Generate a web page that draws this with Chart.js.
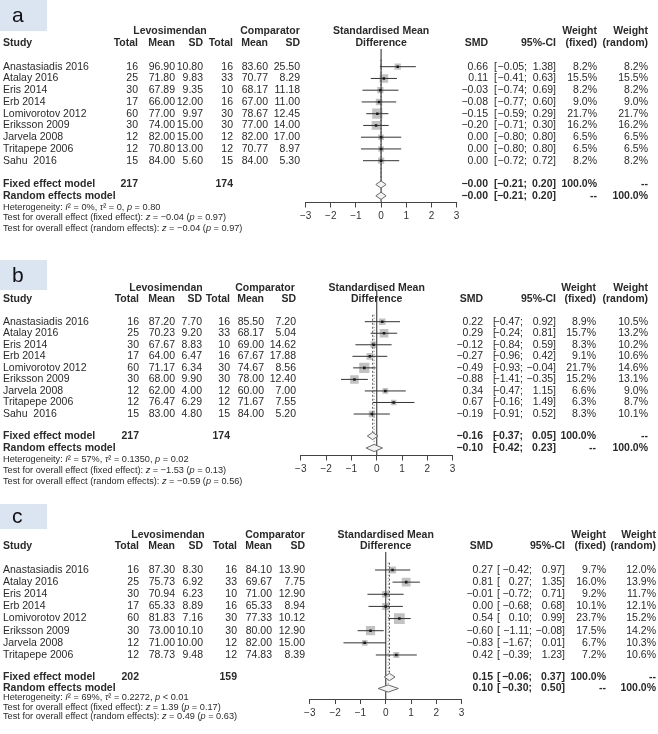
<!DOCTYPE html>
<html>
<head>
<meta charset="utf-8">
<script src="https://cdn.jsdelivr.net/npm/chart.js@4.4.1/dist/chart.umd.min.js"></script>
<style>
  html, body { margin: 0; padding: 0; background: #fff; }
  #wrap { position: relative; width: 658px; height: 734px; overflow: hidden; }
  canvas { position: absolute; left: 0; }
</style>
</head>
<body>
<div id="wrap">
  <canvas id="plotA" style="top:0px"></canvas>
  <canvas id="plotB" style="top:240px"></canvas>
  <canvas id="plotC" style="top:488px"></canvas>
</div>
<script>
// ---- data ----
const studiesAB = ['Anastasiadis 2016', 'Atalay 2016', 'Eris 2014', 'Erb 2014', 'Lomivorotov 2012',
                   'Eriksson 2009', 'Jarvela 2008', 'Tritapepe 2006', 'Sahu  2016'];
const studiesC = ['Anastasiadis 2016', 'Atalay 2016', 'Eris 2014', 'Erb 2014', 'Lomivorotov 2012',
                  'Eriksson 2009', 'Jarvela 2008', 'Tritapepe 2006'];
const xTicks = [-3, -2, -1, 0, 1, 2, 3];

// panel a
const aLevoN = [16, 25, 30, 17, 60, 30, 12, 12, 15];
const aLevoMean = [96.90, 71.80, 67.89, 66.00, 77.00, 74.00, 82.00, 70.80, 84.00];
const aLevoSD = [10.80, 9.83, 9.35, 12.00, 9.97, 15.00, 15.00, 13.00, 5.60];
const aCompN = [16, 33, 10, 16, 30, 30, 12, 12, 15];
const aCompMean = [83.60, 70.77, 68.17, 67.00, 78.67, 77.00, 82.00, 70.77, 84.00];
const aCompSD = [25.50, 8.29, 11.18, 11.00, 12.45, 14.00, 17.00, 8.97, 5.30];
const aSMD = [0.66, 0.11, -0.03, -0.08, -0.15, -0.20, 0.00, 0.00, 0.00];
const aLow = [-0.05, -0.41, -0.74, -0.77, -0.59, -0.71, -0.80, -0.80, -0.72];
const aHigh = [1.38, 0.63, 0.69, 0.60, 0.29, 0.30, 0.80, 0.80, 0.72];
const aWFixed = [8.2, 15.5, 8.2, 9.0, 21.7, 16.2, 6.5, 6.5, 8.2];
const aWRandom = [8.2, 15.5, 8.2, 9.0, 21.7, 16.2, 6.5, 6.5, 8.2];
const aFixed = [-0.002, -0.21, 0.20];
const aRandom = [-0.002, -0.21, 0.20];
const aTotals = [217, 174];
const aHet = ['0%', '0', '= 0.80'];
const aZ = [-0.04, -0.04];
const aP = ['= 0.97', '= 0.97'];

// panel b
const bLevoN = [16, 25, 30, 17, 60, 30, 12, 12, 15];
const bLevoMean = [87.20, 70.23, 67.67, 64.00, 71.17, 68.00, 62.00, 76.47, 83.00];
const bLevoSD = [7.70, 9.20, 8.83, 6.47, 6.34, 9.90, 4.00, 6.29, 4.80];
const bCompN = [16, 33, 10, 16, 30, 30, 12, 12, 15];
const bCompMean = [85.50, 68.17, 69.00, 67.67, 74.67, 78.00, 60.00, 71.67, 84.00];
const bCompSD = [7.20, 5.04, 14.62, 17.88, 8.56, 12.40, 7.00, 7.55, 5.20];
const bSMD = [0.22, 0.29, -0.12, -0.27, -0.49, -0.88, 0.34, 0.67, -0.19];
const bLow = [-0.47, -0.24, -0.84, -0.96, -0.93, -1.41, -0.47, -0.16, -0.91];
const bHigh = [0.92, 0.81, 0.59, 0.42, -0.04, -0.35, 1.15, 1.49, 0.52];
const bWFixed = [8.9, 15.7, 8.3, 9.1, 21.7, 15.2, 6.6, 6.3, 8.3];
const bWRandom = [10.5, 13.2, 10.2, 10.6, 14.6, 13.1, 9.0, 8.7, 10.1];
const bFixed = [-0.16, -0.37, 0.05];
const bRandom = [-0.10, -0.42, 0.23];
const bTotals = [217, 174];
const bHet = ['57%', '0.1350', '= 0.02'];
const bZ = [-1.53, -0.59];
const bP = ['= 0.13', '= 0.56'];

// panel c
const cLevoN = [16, 25, 30, 17, 60, 30, 12, 12];
const cLevoMean = [87.30, 75.73, 70.94, 65.33, 81.83, 73.00, 71.00, 78.73];
const cLevoSD = [8.30, 6.92, 6.23, 8.89, 7.16, 10.10, 10.00, 9.48];
const cCompN = [16, 33, 10, 16, 30, 30, 12, 12];
const cCompMean = [84.10, 69.67, 71.00, 65.33, 77.33, 80.00, 82.00, 74.83];
const cCompSD = [13.90, 7.75, 12.90, 8.94, 10.12, 12.90, 15.00, 8.39];
const cSMD = [0.27, 0.81, -0.01, 0.00, 0.54, -0.60, -0.83, 0.42];
const cLow = [-0.42, 0.27, -0.72, -0.68, 0.10, -1.11, -1.67, -0.39];
const cHigh = [0.97, 1.35, 0.71, 0.68, 0.99, -0.08, 0.01, 1.23];
const cWFixed = [9.7, 16.0, 9.2, 10.1, 23.7, 17.5, 6.7, 7.2];
const cWRandom = [12.0, 13.9, 11.7, 12.1, 15.2, 14.2, 10.3, 10.6];
const cFixed = [0.15, -0.06, 0.37];
const cRandom = [0.10, -0.30, 0.50];
const cTotals = [202, 159];
const cHet = ['69%', '0.2272', '< 0.01'];
const cZ = [1.39, 0.49];
const cP = ['= 0.17', '= 0.63'];

// ---- layout (page pixels) ----
const FONT = '"Liberation Sans", Arial, Helvetica, sans-serif';
const INK = '#2a2a2a';

const panels = [
  { id: 'plotA', label: 'a', canvasTop: 0, height: 240, box: [0, 0, 47, 31],
    x0: 305.6, x3: 456.6, lineTop: 49, axis: 202.5, row1: 66.7, step: 11.75,
    fixedPx: 184.5, randomPx: 195.8, hdr: [31, 43], foot: [207, 217.5, 228],
    col: { study: 3, lN: 138, lM: 175, lS: 203, cN: 233, cM: 268, cS: 300, lHead: 170, cHead: 270,
           smd: 488, ciL: 494, ciSemi: 527, ciR: 556, wf: 597, wr: 648 },
    studies: studiesAB, levoN: aLevoN, levoMean: aLevoMean, levoSD: aLevoSD,
    compN: aCompN, compMean: aCompMean, compSD: aCompSD, smd: aSMD, low: aLow, high: aHigh,
    wFixed: aWFixed, wRandom: aWRandom, fixed: aFixed, random: aRandom, totals: aTotals,
    het: aHet, z: aZ, p: aP },
  { id: 'plotB', label: 'b', canvasTop: 240, height: 248, box: [0, 260, 47, 30],
    x0: 300.8, x3: 452.6, lineTop: 290, axis: 455.5, row1: 321.7, step: 11.54,
    fixedPx: 436, randomPx: 448, hdr: [288.3, 299.3], foot: [459.5, 470, 481.5],
    col: { study: 3, lN: 139, lM: 175, lS: 202, cN: 230, cM: 264, cS: 296, lHead: 166, cHead: 265,
           smd: 483, ciL: 493, ciSemi: 523, ciR: 556, wf: 596, wr: 648 },
    studies: studiesAB, levoN: bLevoN, levoMean: bLevoMean, levoSD: bLevoSD,
    compN: bCompN, compMean: bCompMean, compSD: bCompSD, smd: bSMD, low: bLow, high: bHigh,
    wFixed: bWFixed, wRandom: bWRandom, fixed: bFixed, random: bRandom, totals: bTotals,
    het: bHet, z: bZ, p: bP },
  { id: 'plotC', label: 'c', canvasTop: 488, height: 246, box: [0, 504, 47, 25],
    x0: 309.8, x3: 461.6, lineTop: 551.7, axis: 699, row1: 570, step: 12.14,
    fixedPx: 677, randomPx: 688.5, hdr: [535, 546], foot: [697.5, 707, 716.5],
    col: { study: 3, lN: 139, lM: 175, lS: 203, cN: 237, cM: 272, cS: 305, lHead: 168, cHead: 275,
           smd: 493, ciL: 497, ciSemi: 532, ciR: 565, wf: 606, wr: 656 },
    studies: studiesC, levoN: cLevoN, levoMean: cLevoMean, levoSD: cLevoSD,
    compN: cCompN, compMean: cCompMean, compSD: cCompSD, smd: cSMD, low: cLow, high: cHigh,
    wFixed: cWFixed, wRandom: cWRandom, fixed: cFixed, random: cRandom, totals: cTotals,
    het: cHet, z: cZ, p: cP }
];

const fmt = (v, d = 2) => v.toFixed(d).replace('-', '\u2212');
const pct = v => (v == null ? '--' : v.toFixed(1) + '%');

function rich(c, parts, x, y, size) {
  let cx = x;
  parts.forEach(([t, it]) => {
    c.font = (it ? 'italic ' : '') + size + 'px ' + FONT;
    c.fillText(t, cx, y);
    cx += c.measureText(t).width;
  });
}

function tablePlugin(P) {
  return {
    id: 'table' + P.label,
    beforeDraw(chart) {
      const c = chart.ctx;
      const [bx, by, bw, bh] = P.box;
      const top = by - P.canvasTop;
      c.save();
      c.fillStyle = '#dbe5f1';
      c.fillRect(bx, top, bw, bh);
      c.fillStyle = '#111';
      c.font = '21px ' + FONT;
      c.textBaseline = 'middle';
      c.textAlign = 'left';
      c.fillText(P.label, bx + 12, top + bh / 2 + 1);
      c.restore();
    },
    afterDraw(chart) {
      const c = chart.ctx, k = P.col, yS = chart.scales.y, xS = chart.scales.x;
      const off = P.canvasTop;
      const txt = (s, x, y, align, bold) => {
        c.font = (bold ? 'bold ' : '') + '10.5px ' + FONT;
        c.textAlign = align;
        c.fillText(s, x, y);
      };
      c.save();
      c.fillStyle = INK;
      c.textBaseline = 'middle';

      // headers
      const h1 = P.hdr[0] - off, h2 = P.hdr[1] - off, x0 = xS.getPixelForValue(0);
      txt('Levosimendan', k.lHead, h1, 'center', true);
      txt('Comparator', k.cHead, h1, 'center', true);
      txt('Standardised Mean', x0, h1, 'center', true);
      txt('Difference', x0, h2, 'center', true);
      txt('Weight', k.wf, h1, 'right', true);
      txt('Weight', k.wr, h1, 'right', true);
      txt('Study', k.study, h2, 'left', true);
      [['Total', k.lN], ['Mean', k.lM], ['SD', k.lS], ['Total', k.cN], ['Mean', k.cM], ['SD', k.cS],
       ['SMD', k.smd], ['95%-CI', k.ciR], ['(fixed)', k.wf], ['(random)', k.wr]]
        .forEach(([s, x]) => txt(s, x, h2, 'right', true));

      // study rows
      P.studies.forEach((name, i) => {
        const y = yS.getPixelForValue(i + 1);
        txt(name, k.study, y, 'left');
        txt(String(P.levoN[i]), k.lN, y, 'right');
        txt(P.levoMean[i].toFixed(2), k.lM, y, 'right');
        txt(P.levoSD[i].toFixed(2), k.lS, y, 'right');
        txt(String(P.compN[i]), k.cN, y, 'right');
        txt(P.compMean[i].toFixed(2), k.cM, y, 'right');
        txt(P.compSD[i].toFixed(2), k.cS, y, 'right');
        txt(fmt(P.smd[i]), k.smd, y, 'right');
        txt('[', k.ciL, y, 'left');
        txt(fmt(P.low[i]) + ';', k.ciSemi, y, 'right');
        txt(fmt(P.high[i]) + ']', k.ciR, y, 'right');
        txt(pct(P.wFixed[i]), k.wf, y, 'right');
        txt(pct(P.wRandom[i]), k.wr, y, 'right');
      });

      // summary rows
      const sumRow = (label, est, y, wf, wr, totals) => {
        txt(label, k.study, y, 'left', true);
        if (totals) {
          txt(String(totals[0]), k.lN, y, 'right', true);
          txt(String(totals[1]), k.cN, y, 'right', true);
        }
        txt(fmt(est[0]), k.smd, y, 'right', true);
        txt('[', k.ciL, y, 'left', true);
        txt(fmt(est[1]) + ';', k.ciSemi, y, 'right', true);
        txt(fmt(est[2]) + ']', k.ciR, y, 'right', true);
        txt(wf, k.wf, y, 'right', true);
        txt(wr, k.wr, y, 'right', true);
      };
      sumRow('Fixed effect model', P.fixed, yS.getPixelForValue(P.fixedRow), '100.0%', '--', P.totals);
      sumRow('Random effects model', P.random, yS.getPixelForValue(P.randomRow), '--', '100.0%', null);

      // heterogeneity / tests
      c.textAlign = 'left';
      const f = P.foot.map(v => v - off);
      const fs = 9.2;
      rich(c, [['Heterogeneity: '], ['I', 1], ['\u00b2 = ' + P.het[0] + ', '], ['\u03c4', 1],
               ['\u00b2 = ' + P.het[1] + ', '], ['p', 1], [' ' + P.het[2]]], k.study, f[0], fs);
      rich(c, [['Test for overall effect (fixed effect): '], ['z', 1], [' = ' + fmt(P.z[0]) + ' ('],
               ['p', 1], [' ' + P.p[0] + ')']], k.study, f[1], fs);
      rich(c, [['Test for overall effect (random effects): '], ['z', 1], [' = ' + fmt(P.z[1]) + ' ('],
               ['p', 1], [' ' + P.p[1] + ')']], k.study, f[2], fs);
      c.restore();
    }
  };
}

function diamond(est, row, h) {
  return [{ x: est[1], y: row }, { x: est[0], y: row - h }, { x: est[2], y: row },
          { x: est[0], y: row + h }, { x: est[1], y: row }];
}

function buildPanel(P) {
  const canvas = document.getElementById(P.id);
  canvas.width = 658;
  canvas.height = P.height;
  canvas.style.width = '658px';
  canvas.style.height = P.height + 'px';

  const toRow = px => 1 + (px - P.row1) / P.step;
  P.yMin = toRow(P.lineTop);
  P.yMax = toRow(P.axis);
  P.fixedRow = toRow(P.fixedPx);
  P.randomRow = toRow(P.randomPx);
  const dh = 3.6 / P.step;

  const points = P.smd.map((v, i) => ({ x: v, y: i + 1 }));
  const datasets = [];

  // weighted squares
  datasets.push({
    data: points, pointStyle: 'rect', backgroundColor: '#c2c2c2', borderWidth: 0,
    pointRadius: ctx => 1.55 * Math.sqrt(P.wFixed[ctx.dataIndex]), order: 6
  });
  // confidence intervals
  P.low.forEach((lo, i) => datasets.push({
    data: [{ x: lo, y: i + 1 }, { x: P.high[i], y: i + 1 }], showLine: true,
    borderColor: '#333', borderWidth: 1, pointRadius: 0, order: 3
  }));
  // point estimate marks
  datasets.push({
    data: points, pointStyle: 'rect', pointRadius: 1.8, backgroundColor: '#1a1a1a',
    borderWidth: 0, order: 1
  });
  // line of no effect
  datasets.push({
    data: [{ x: 0, y: P.yMin }, { x: 0, y: P.yMax }], showLine: true,
    borderColor: '#555', borderWidth: 1.3, pointRadius: 0, order: 5
  });
  // fixed / random effect reference lines
  datasets.push({
    data: [{ x: P.fixed[0], y: 0.4 }, { x: P.fixed[0], y: P.fixedRow }], showLine: true,
    borderColor: '#555', borderWidth: 1, borderDash: [2, 2], pointRadius: 0, order: 4
  });
  datasets.push({
    data: [{ x: P.random[0], y: 0.4 }, { x: P.random[0], y: P.randomRow }], showLine: true,
    borderColor: '#777', borderWidth: 1, borderDash: [1, 2], pointRadius: 0, order: 4
  });
  // summary diamonds
  [[P.fixed, P.fixedRow], [P.random, P.randomRow]].forEach(([est, row]) => datasets.push({
    data: diamond(est, row, dh), showLine: true, fill: 'shape', backgroundColor: '#f3f3f3',
    borderColor: '#6a6a6a', borderWidth: 1, pointRadius: 0, tension: 0, order: 2
  }));

  new Chart(canvas, {
    type: 'scatter',
    data: { datasets },
    options: {
      responsive: false,
      animation: false,
      events: [],
      layout: { padding: { left: P.x0, right: 658 - P.x3, top: P.lineTop - P.canvasTop,
                           bottom: P.height - (P.axis - P.canvasTop) - 20 } },
      plugins: { legend: { display: false }, tooltip: { enabled: false } },
      scales: {
        x: {
          type: 'linear', min: xTicks[0], max: xTicks[xTicks.length - 1],
          afterBuildTicks: s => { s.ticks = xTicks.map(v => ({ value: v })); },
          afterFit: s => { s.height = 20; s.paddingLeft = 0; s.paddingRight = 0; },
          ticks: { color: '#333', padding: 3, maxRotation: 0, autoSkip: false,
                   font: { family: FONT, size: 10 }, callback: v => String(v).replace('-', '\u2212') },
          grid: { display: true, drawOnChartArea: false, drawTicks: true, tickLength: 5, color: '#444' },
          border: { display: true, color: '#444', width: 1 }
        },
        y: { type: 'linear', display: false, reverse: true, min: P.yMin, max: P.yMax }
      }
    },
    plugins: [tablePlugin(P)]
  });
}

panels.forEach(buildPanel);
</script>
</body>
</html>
